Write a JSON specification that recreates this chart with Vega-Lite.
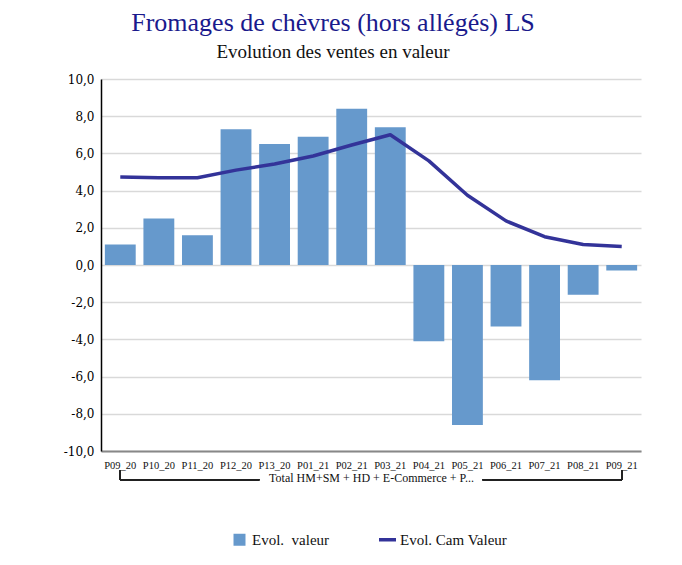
{
  "$schema": "https://vega.github.io/schema/vega-lite/v6.json",
  "width": 540,
  "height": 372,
  "autosize": "none",
  "padding": {"left": 101, "top": 79, "right": 41, "bottom": 114},
  "background": "white",
  "config": {
    "view": {"stroke": null},
    "font": "Liberation Serif"
  },
  "title": {
    "text": "Fromages de chèvres (hors allégés) LS",
    "subtitle": "Evolution des ventes en valeur",
    "anchor": "middle",
    "dx": -38,
    "offset": 11,
    "font": "Liberation Serif",
    "fontSize": 26,
    "fontWeight": "normal",
    "color": "#1a1a8c",
    "subtitleFont": "Liberation Serif",
    "subtitleFontSize": 19,
    "subtitleColor": "#111111",
    "subtitlePadding": 7
  },
  "data": {
    "values": [
      {"periode": "P09_20", "serie": "Evol.  valeur", "valeur": 1.1},
      {"periode": "P10_20", "serie": "Evol.  valeur", "valeur": 2.5},
      {"periode": "P11_20", "serie": "Evol.  valeur", "valeur": 1.6},
      {"periode": "P12_20", "serie": "Evol.  valeur", "valeur": 7.3},
      {"periode": "P13_20", "serie": "Evol.  valeur", "valeur": 6.5},
      {"periode": "P01_21", "serie": "Evol.  valeur", "valeur": 6.9},
      {"periode": "P02_21", "serie": "Evol.  valeur", "valeur": 8.4},
      {"periode": "P03_21", "serie": "Evol.  valeur", "valeur": 7.4},
      {"periode": "P04_21", "serie": "Evol.  valeur", "valeur": -4.1},
      {"periode": "P05_21", "serie": "Evol.  valeur", "valeur": -8.6},
      {"periode": "P06_21", "serie": "Evol.  valeur", "valeur": -3.3},
      {"periode": "P07_21", "serie": "Evol.  valeur", "valeur": -6.2},
      {"periode": "P08_21", "serie": "Evol.  valeur", "valeur": -1.6},
      {"periode": "P09_21", "serie": "Evol.  valeur", "valeur": -0.3},
      {"periode": "P09_20", "serie": "Evol. Cam Valeur", "valeur": 4.73},
      {"periode": "P10_20", "serie": "Evol. Cam Valeur", "valeur": 4.69},
      {"periode": "P11_20", "serie": "Evol. Cam Valeur", "valeur": 4.69},
      {"periode": "P12_20", "serie": "Evol. Cam Valeur", "valeur": 5.1},
      {"periode": "P13_20", "serie": "Evol. Cam Valeur", "valeur": 5.43},
      {"periode": "P01_21", "serie": "Evol. Cam Valeur", "valeur": 5.86},
      {"periode": "P02_21", "serie": "Evol. Cam Valeur", "valeur": 6.45},
      {"periode": "P03_21", "serie": "Evol. Cam Valeur", "valeur": 7.0},
      {"periode": "P04_21", "serie": "Evol. Cam Valeur", "valeur": 5.6},
      {"periode": "P05_21", "serie": "Evol. Cam Valeur", "valeur": 3.75},
      {"periode": "P06_21", "serie": "Evol. Cam Valeur", "valeur": 2.37},
      {"periode": "P07_21", "serie": "Evol. Cam Valeur", "valeur": 1.52},
      {"periode": "P08_21", "serie": "Evol. Cam Valeur", "valeur": 1.1},
      {"periode": "P09_21", "serie": "Evol. Cam Valeur", "valeur": 1.0}
    ]
  },
  "encoding": {
    "x": {
      "field": "periode",
      "type": "nominal",
      "sort": null,
      "scale": {"paddingInner": 0.2, "paddingOuter": 0.1},
      "axis": {
        "title": "Total HM+SM + HD + E-Commerce + P...",
        "titleFont": "Liberation Serif",
        "titleFontSize": 12,
        "titleFontWeight": "normal",
        "titleColor": "#111111",
        "titlePadding": 2,
        "labelAngle": 0,
        "labelFont": "Liberation Serif",
        "labelFontSize": 10.5,
        "labelColor": "#111111",
        "labelPadding": 9,
        "ticks": false,
        "domainColor": "#888888",
        "domainWidth": 2,
        "grid": false
      }
    },
    "y": {
      "field": "valeur",
      "type": "quantitative",
      "scale": {"domain": [-10, 10], "nice": false, "zero": false},
      "axis": {
        "title": null,
        "values": [-10, -8, -6, -4, -2, 0, 2, 4, 6, 8, 10],
        "labelExpr": "replace(replace(format(datum.value, '.1f'), '.', ','), '\u2212', '-')",
        "labelFont": "DejaVu Serif",
        "labelFontSize": 12,
        "labelColor": "#000000",
        "labelPadding": 7,
        "ticks": false,
        "domainColor": "#000000",
        "domainWidth": 1.5,
        "gridColor": "#d9d9d9",
        "gridWidth": 1.5
      }
    }
  },
  "layer": [
    {
      "transform": [{"filter": "datum.serie === 'Evol.  valeur'"}],
      "mark": {"type": "bar"},
      "encoding": {
        "color": {
          "field": "serie",
          "type": "nominal",
          "scale": {"domain": ["Evol.  valeur", "Evol. Cam Valeur"], "range": ["#6699cc", "#333399"]},
          "legend": {
            "title": null,
            "orient": "none",
            "direction": "horizontal",
            "legendX": 131,
            "legendY": 453,
            "labelFont": "Liberation Serif",
            "labelFontSize": 15,
            "labelColor": "#111111",
            "labelOffset": 5,
            "columnPadding": 42,
            "labelExpr": "replace(datum.label, '  ', '\u00a0 ')",
            "encode": {
              "symbols": {
                "update": {
                  "shape": {"signal": "datum.value === 'Evol. Cam Valeur' ? 'stroke' : 'square'"},
                  "size": {"signal": "datum.value === 'Evol. Cam Valeur' ? 289 : 144"},
                  "fill": {"signal": "datum.value === 'Evol. Cam Valeur' ? 'transparent' : '#6699cc'"},
                  "stroke": {"signal": "datum.value === 'Evol. Cam Valeur' ? '#333399' : 'transparent'"},
                  "strokeWidth": {"signal": "datum.value === 'Evol. Cam Valeur' ? 3.5 : 0"},
                  "opacity": {"value": 1}
                }
              }
            }
          }
        }
      }
    },
    {
      "transform": [{"filter": "datum.serie === 'Evol. Cam Valeur'"}],
      "mark": {"type": "line", "interpolate": "linear", "strokeWidth": 3.5, "strokeJoin": "round"},
      "encoding": {
        "color": {"field": "serie", "type": "nominal"}
      }
    },
    {
      "mark": {"type": "rule", "color": "#222222", "strokeWidth": 1},
      "encoding": {
        "x": {"datum": "P09_20"},
        "y": {"datum": -11.05},
        "y2": {"datum": -11.55}
      }
    },
    {
      "mark": {"type": "rule", "color": "#222222", "strokeWidth": 1},
      "encoding": {
        "x": {"datum": "P09_21"},
        "y": {"datum": -11.05},
        "y2": {"datum": -11.55}
      }
    },
    {
      "mark": {"type": "rule", "color": "#222222", "strokeWidth": 1},
      "encoding": {
        "x": {"datum": "P09_20", "bandPosition": 0.5},
        "x2": {"datum": "P13_20", "bandPosition": 0},
        "y": {"datum": -11.55}
      }
    },
    {
      "mark": {"type": "rule", "color": "#222222", "strokeWidth": 1},
      "encoding": {
        "x": {"datum": "P05_21", "bandPosition": 1},
        "x2": {"datum": "P09_21", "bandPosition": 0.5},
        "y": {"datum": -11.55}
      }
    }
  ]
}
